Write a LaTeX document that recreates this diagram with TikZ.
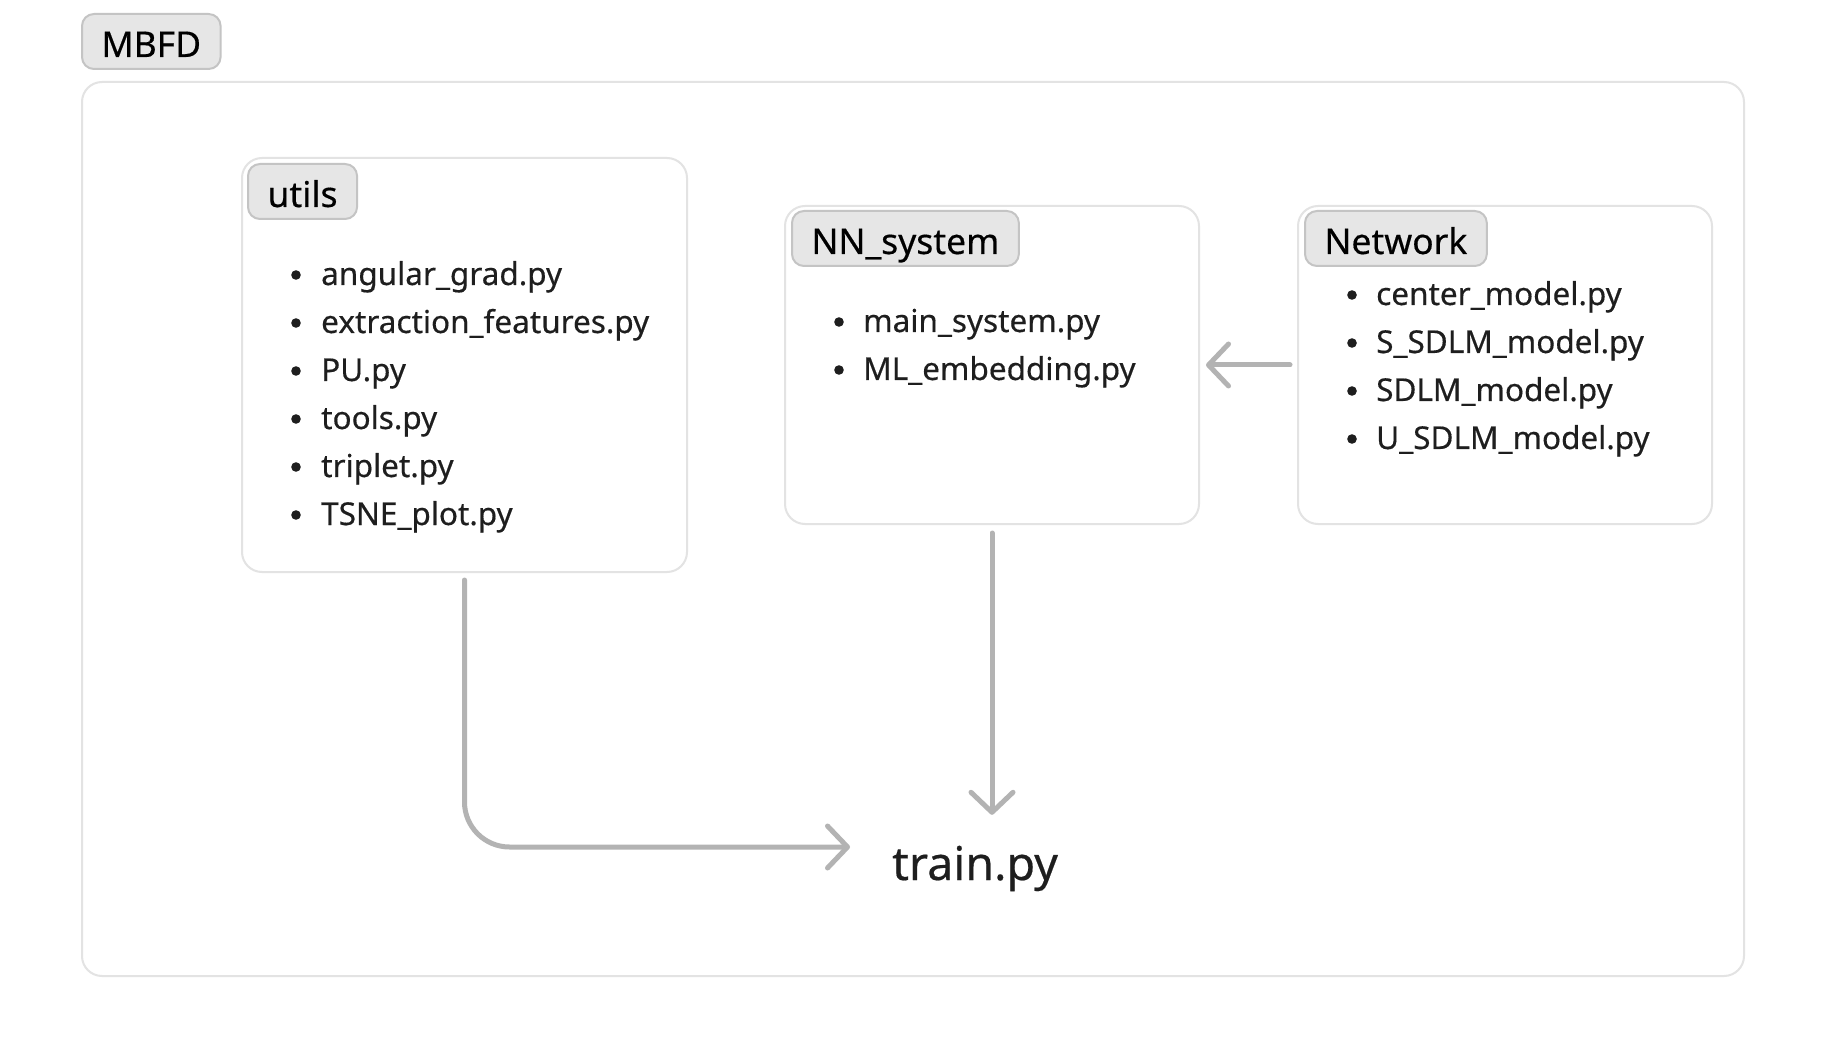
\documentclass[tikz,border=0pt]{standalone}
\usepackage{fontspec}
\setmainfont{Noto Sans}[FakeBold=0.4]
\usetikzlibrary{arrows.meta}
\definecolor{boxline}{HTML}{E3E3E3}
\definecolor{labfill}{HTML}{E6E6E6}
\definecolor{labline}{HTML}{C4C4C4}
\definecolor{arrcol}{HTML}{B3B3B3}
\definecolor{txt}{HTML}{1E1E1E}
\begin{document}
\begin{tikzpicture}[x=1pt,y=-1pt,
  grp/.style={draw=boxline, line width=2pt, rounded corners=20pt, anchor=north west, inner sep=0pt},
  lab/.style={draw=labline, fill=labfill, line width=2pt, rounded corners=12pt, anchor=north west,
    inner xsep=19.5pt, inner ysep=0pt, minimum height=55pt, text height=31pt, text depth=0pt,
    font=\fontsize{35.5}{40}\selectfont, text=black},
  item/.style={anchor=base west, inner sep=0pt, font=\fontsize{31.5}{40}\selectfont, text=txt},
  dot/.style={fill=txt},
  arr/.style={draw=arrcol, line width=5pt, line cap=round,
    -{Straight Barb[length=20pt,width=42pt,round]}}]
\useasboundingbox (0,0) rectangle (1824,1056);
\fill[white] (0,0) rectangle (1824,1056);

% outer group
\node[grp, minimum width=1662pt, minimum height=894pt] (outer) at (81,81) {};
\node[lab] (mbfd) at (81,13) {MBFD};

% utils
\node[grp, minimum width=445pt, minimum height=414pt] (utils) at (241,157) {};
\node[lab] (utilslab) at (247,163) {utils};
\foreach \t [count=\i] in {angular\_grad.py, extraction\_features.py, PU.py, tools.py, triplet.py, TSNE\_plot.py}{
  \pgfmathsetmacro{\yy}{285+48*(\i-1)}
  \fill[dot] (296,\yy-10) circle (4.8pt);
  \node[item] (u\i) at (321,\yy) {\t};
}

% NN_system
\node[grp, minimum width=414pt, minimum height=318pt] (nn) at (784,205) {};
\node[lab] (nnlab) at (791,210) {NN\_system};
\foreach \t [count=\i] in {main\_system.py, ML\_embedding.py}{
  \pgfmathsetmacro{\yy}{332+48*(\i-1)}
  \fill[dot] (839,\yy-10) circle (4.8pt);
  \node[item] (n\i) at (863,\yy) {\t};
}

% Network
\node[grp, minimum width=414pt, minimum height=318pt] (net) at (1297,205) {};
\node[lab] (netlab) at (1304,210) {Network};
\foreach \t [count=\i] in {center\_model.py, S\_SDLM\_model.py, SDLM\_model.py, U\_SDLM\_model.py}{
  \pgfmathsetmacro{\yy}{305+48*(\i-1)}
  \fill[dot] (1352,\yy-10) circle (4.8pt);
  \node[item] (w\i) at (1376,\yy) {\t};
}

% train.py
\node[anchor=base, inner sep=0pt, font=\fontsize{46.5}{50}\selectfont, text=txt,
  text height=34pt, text depth=12pt] (train) at (975,880) {train.py};
\coordinate (tin) at (850,847);

% connectors
\draw[arr, shorten <=7pt, shorten >=6pt] (net.west) -- (nn.east);
\draw[arr, shorten <=8pt, shorten >=31pt] (nn.south) -- (nn.south |- train.north);
\draw[arr, rounded corners=45pt, shorten <=7pt] (utils.south) |- (tin);
\end{tikzpicture}
\end{document}
